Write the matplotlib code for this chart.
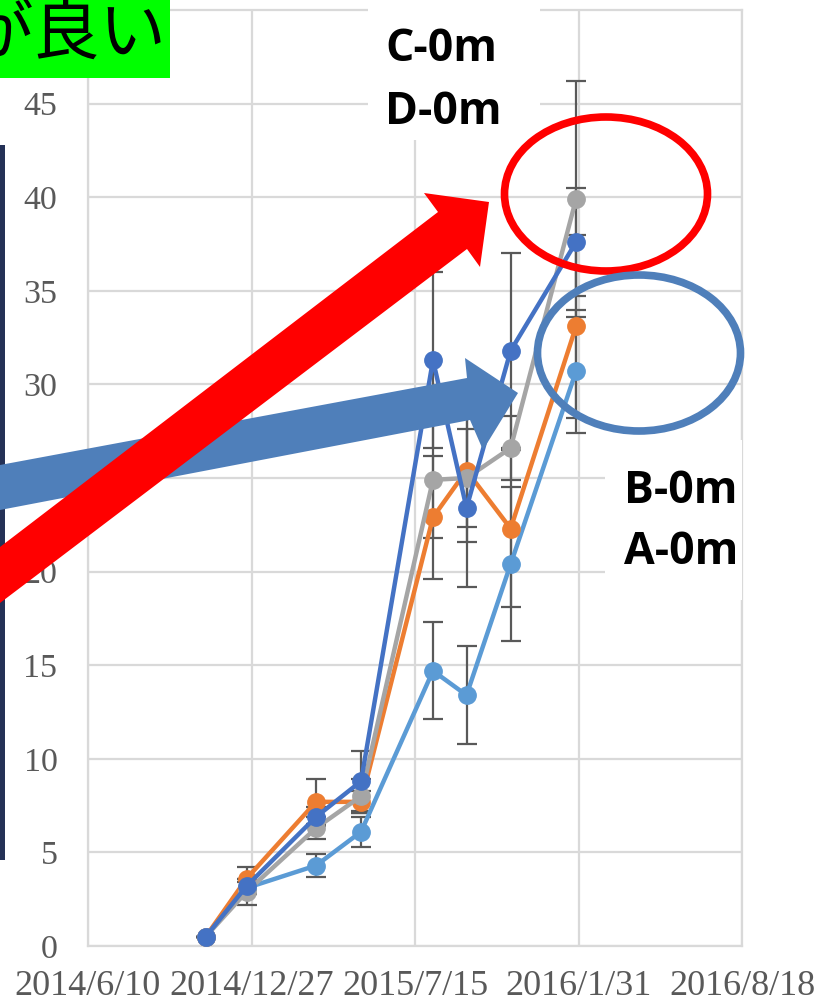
import matplotlib
matplotlib.use("Agg")
import matplotlib.pyplot as plt
from matplotlib.patches import Polygon, Ellipse, Rectangle
import datetime as dt

# ---- data ----
dates = ["2014-11-01", "2014-12-21", "2015-03-16", "2015-05-10",
         "2015-08-06", "2015-09-16", "2015-11-09", "2016-01-28"]
series_names = ["A-0m", "B-0m", "C-0m", "D-0m"]
a_vals = [0.5, 3.1, 4.3, 6.1, 14.7, 13.4, 20.4, 30.7]
b_vals = [0.5, 3.6, 7.7, 7.7, 22.9, 25.4, 22.3, 33.1]
c_vals = [0.5, 2.9, 6.3, 8.0, 24.9, 25.0, 26.6, 39.9]
d_vals = [0.5, 3.2, 6.9, 8.8, 31.3, 23.4, 31.8, 37.6]
a_err = [0, 0.3, 0.6, 0.8, 2.6, 2.6, 4.1, 3.3]
b_err = [0, 0.6, 1.2, 0.6, 3.3, 3.0, 4.2, 4.9]
c_err = [0, 0.7, 0.6, 0.9, 3.1, 3.4, 1.7, 6.3]
d_err = [0, 0.4, 0.5, 1.6, 4.7, 4.2, 5.2, 2.9]
x_tick_dates = ["2014-06-10", "2014-12-27", "2015-07-15", "2016-01-31", "2016-08-18"]
x_tick_labels = ["2014/6/10", "2014/12/27", "2015/7/15", "2016/1/31", "2016/8/18"]
y_ticks = [0, 5, 10, 15, 20, 25, 30, 35, 40, 45]
colors = ["#5B9BD5", "#ED7D31", "#A5A5A5", "#4472C4"]

W, H = 831, 1005
fig = plt.figure(figsize=(W / 100, H / 100), dpi=100)
fig.patch.set_facecolor("white")

L, R, T, B = 88, 742, 10, 946
ax = fig.add_axes([L / W, (H - B) / H, (R - L) / W, (B - T) / H])

xd = [dt.datetime.strptime(s, "%Y-%m-%d") for s in dates]
xt = [dt.datetime.strptime(s, "%Y-%m-%d") for s in x_tick_dates]

vals = [a_vals, b_vals, c_vals, d_vals]
errs = [a_err, b_err, c_err, d_err]
for i, (v, e) in enumerate(zip(vals, errs)):
    ax.errorbar(xd, v, yerr=e, fmt="none", ecolor="#595959", elinewidth=1.6,
                capsize=7, capthick=1.6, zorder=3 + i * 0.1)
for i, (v, name) in enumerate(zip(vals, series_names)):
    ax.plot(xd, v, color=colors[i], lw=3.2, marker="o", markersize=12.5,
            label=name, zorder=4 + i * 0.1)

ax.set_xlim(xt[0], xt[-1])
ax.set_ylim(0, 50)
ax.set_xticks(xt)
ax.set_xticklabels(x_tick_labels)
ax.set_yticks(y_ticks)
ax.grid(True, color="#D9D9D9", lw=1.6, zorder=0)
ax.set_axisbelow(True)
for s in ax.spines.values():
    s.set_color("#D9D9D9")
    s.set_linewidth(1.6)
ax.tick_params(axis="both", length=0, colors="#595959")
ax.tick_params(axis="x", pad=17, labelsize=26)
ax.tick_params(axis="y", pad=22, labelsize=24.5)
for lab in ax.get_xticklabels() + ax.get_yticklabels():
    lab.set_fontfamily("Liberation Serif")
    lab.set_color("#595959")

# ---- overlay decorations in pixel coordinates ----
ov = fig.add_axes([0, 0, 1, 1], zorder=10)
ov.set_xlim(0, W)
ov.set_ylim(H, 0)
ov.axis("off")
ov.patch.set_alpha(0)

# navy panel at left edge
ov.add_patch(Rectangle((0, 145), 5, 715, color="#243156", lw=0))

# green title box (text cut at the left edge as in the slide)
ov.add_patch(Rectangle((0, 0), 170, 78, color="#00FF00", lw=0))
ov.text(167, 35, "が良い", ha="right", va="center", fontsize=48,
        family=["Noto Sans CJK JP", "DejaVu Sans"], color="black")

# white label boxes
ov.add_patch(Rectangle((368, 0), 172, 140, color="white", lw=0))
ov.add_patch(Rectangle((605, 440), 137, 160, color="white", lw=0))
lab_kw = dict(fontsize=32, fontweight="bold", family="Open Sans",
              color="black", ha="left", va="center")
ov.text(385, 49, "C-0m", **lab_kw)
ov.text(385, 112, "D-0m", **lab_kw)
ov.text(624, 491, "B-0m", **lab_kw)
ov.text(624, 552, "A-0m", **lab_kw)

# blue arrow
blue = "#4F7FBA"
ov.add_patch(Polygon([(0, 465), (467, 378), (465, 358), (518, 393),
                      (483, 450), (470, 420), (0, 510)],
                     closed=True, color=blue, lw=0))
# red arrow
ov.add_patch(Polygon([(0, 547), (438, 212), (424, 193), (489, 202),
                      (480, 267), (467, 249), (0, 603)],
                     closed=True, color="#FF0000", lw=0))

# ellipses
ov.add_patch(Ellipse((606, 194), 203, 154, fill=False, ec="#FF0000", lw=5.5))
ov.add_patch(Ellipse((639, 353), 203, 156, fill=False, ec=blue, lw=5.5))

fig.savefig("out.png", dpi=100)
